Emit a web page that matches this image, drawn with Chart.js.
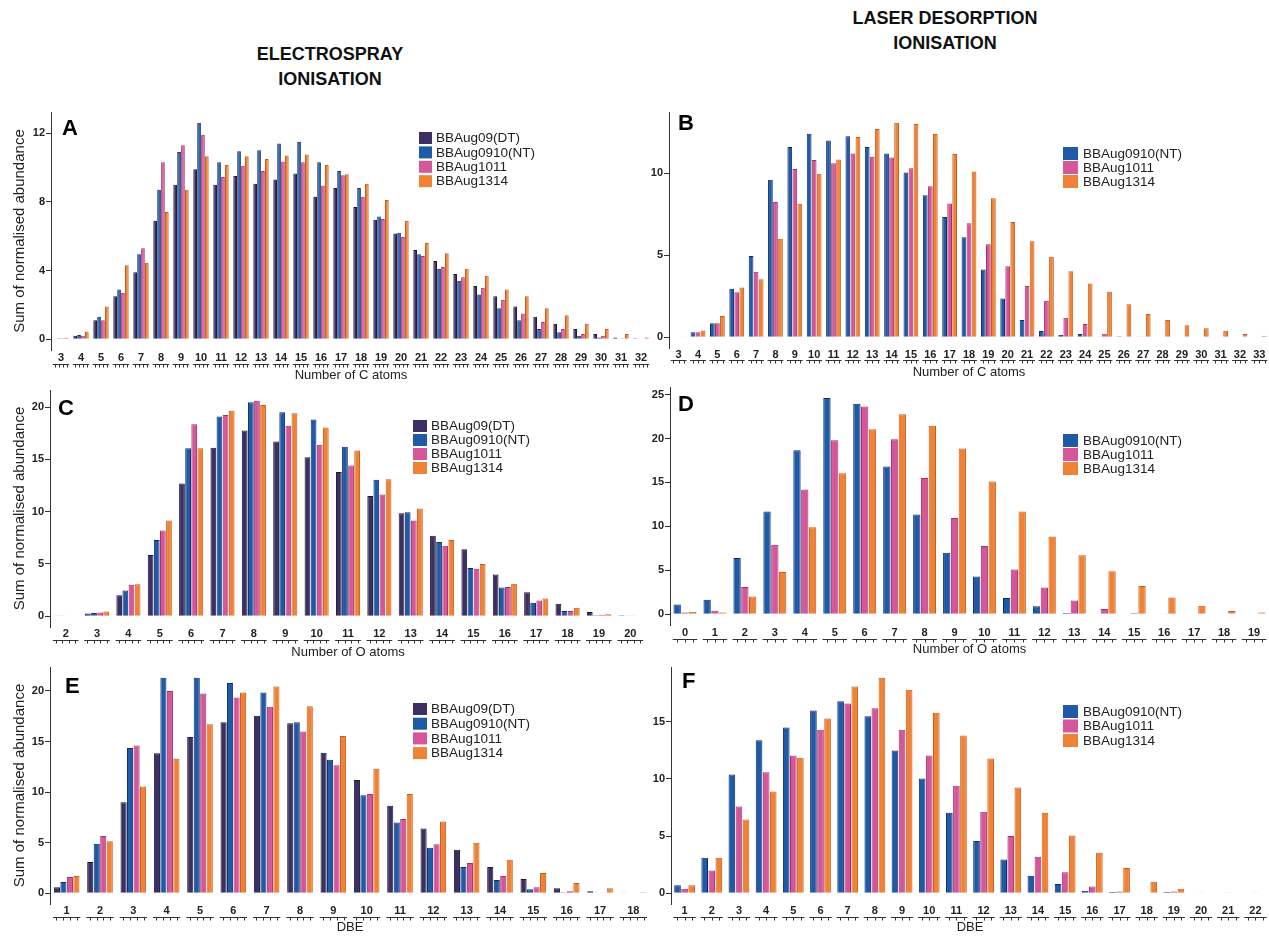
<!DOCTYPE html>
<html><head><meta charset="utf-8">
<script src="https://cdn.jsdelivr.net/npm/chart.js@4.4.1/dist/chart.umd.min.js"></script>
<style>
html,body{margin:0;padding:0;background:#fff;}
body{width:1269px;height:936px;position:relative;overflow:hidden;font-family:"Liberation Sans",Arial,sans-serif;}
.hdr{position:absolute;text-align:center;font-weight:bold;font-size:18px;line-height:25px;color:#111;}
canvas{position:absolute;}
</style></head><body>
<div class="hdr" style="left:180px;top:42px;width:300px;">ELECTROSPRAY<br>IONISATION</div>
<div class="hdr" style="left:795px;top:6px;width:300px;">LASER DESORPTION<br>IONISATION</div>
<canvas id="cA"></canvas><canvas id="cB"></canvas>
<canvas id="cC"></canvas><canvas id="cD"></canvas>
<canvas id="cE"></canvas><canvas id="cF"></canvas>
<script>
// ---------- data ----------
const names4 = ['BBAug09(DT)','BBAug0910(NT)','BBAug1011','BBAug1314'];
const names3 = ['BBAug0910(NT)','BBAug1011','BBAug1314'];

// A: ESI, number of C atoms
const catsA = ['3','4','5','6','7','8','9','10','11','12','13','14','15','16','17','18','19','20','21','22','23','24','25','26','27','28','29','30','31','32'];
const A_DT   = [0.03,0.2,1.1,2.5,3.9,6.9,9.0,9.9,9.0,9.5,9.05,9.3,9.65,8.3,8.8,7.7,6.95,6.15,5.2,4.55,3.8,3.1,2.5,1.9,1.3,0.9,0.6,0.3,0.1,0.05];
const A_NT   = [0.05,0.25,1.3,2.9,4.95,8.7,10.9,12.6,10.3,10.95,11.0,11.4,11.5,10.3,9.8,8.8,7.15,6.2,4.95,4.1,3.4,2.6,1.8,1.1,0.6,0.4,0.2,0.1,0.03,0];
const A_1011 = [0.05,0.2,1.1,2.7,5.3,10.3,11.3,11.9,9.45,10.1,9.8,10.35,10.3,8.95,9.55,8.3,7.0,5.95,4.85,4.2,3.6,3.0,2.3,1.5,1.0,0.6,0.3,0.2,0.05,0];
const A_1314 = [0.08,0.45,1.9,4.3,4.45,7.4,8.7,10.65,10.15,10.65,10.5,10.7,10.75,10.15,9.6,9.05,8.1,6.9,5.6,5.0,4.1,3.7,2.9,2.5,1.8,1.4,0.9,0.6,0.3,0.1];
const ticksA = [0,4,8,12];

// B: LDI, number of C atoms
const catsB = ['3','4','5','6','7','8','9','10','11','12','13','14','15','16','17','18','19','20','21','22','23','24','25','26','27','28','29','30','31','32','33'];
const B_NT   = [0,0.3,0.85,2.95,4.95,9.6,11.6,12.4,12.0,12.25,11.6,11.2,10.05,8.65,7.33,6.1,4.13,2.37,1.05,0.38,0.14,0.2,0.04,0.06,0.02,0,0,0,0,0,0];
const B_1011 = [0,0.3,0.85,2.75,4.0,8.25,10.25,10.8,10.6,11.2,11.0,10.95,10.3,9.2,8.15,6.95,5.67,4.33,3.12,2.23,1.19,0.81,0.22,0.05,0.02,0,0,0,0,0,0];
const B_1314 = [0.05,0.42,1.3,3.04,3.54,6.0,8.14,9.96,10.83,12.2,12.7,13.08,13.0,12.39,11.17,10.1,8.48,7.02,5.85,4.9,4.03,3.28,2.77,2.02,1.42,1.05,0.73,0.55,0.4,0.2,0.1];
const ticksB = [0,5,10];

// C: ESI, number of O atoms
const catsC = ['2','3','4','5','6','7','8','9','10','11','12','13','14','15','16','17','18','19','20'];
const C_DT   = [0.02,0.25,2.0,5.85,12.7,16.1,17.75,16.7,15.2,13.8,11.5,9.85,7.7,6.4,4.0,2.3,1.2,0.4,0.1];
const C_NT   = [0.02,0.3,2.45,7.3,16.05,19.1,20.45,19.5,18.8,16.2,13.05,9.95,7.1,4.6,2.75,1.3,0.5,0.1,0.02];
const C_1011 = [0.05,0.35,3.0,8.2,18.35,19.25,20.6,18.2,16.4,14.4,11.65,9.15,6.75,4.55,2.8,1.5,0.5,0.15,0.02];
const C_1314 = [0.05,0.45,3.05,9.15,16.05,19.65,20.2,19.4,18.05,15.85,13.1,10.3,7.3,5.0,3.1,1.7,0.8,0.2,0.05];
const ticksC = [0,5,10,15,20];

// D: LDI, number of O atoms
const catsD = ['0','1','2','3','4','5','6','7','8','9','10','11','12','13','14','15','16','17','18','19'];
const D_NT   = [1.1,1.65,6.4,11.7,18.65,24.6,23.95,16.8,11.35,7.0,4.3,1.85,0.9,0.15,0.05,0,0,0,0,0];
const D_1011 = [0.2,0.4,3.1,7.9,14.2,19.8,23.65,19.9,15.5,10.95,7.75,5.1,3.05,1.55,0.6,0.15,0.03,0,0,0];
const D_1314 = [0.25,0.2,2.0,4.8,9.9,16.05,21.05,22.75,21.45,18.85,15.1,11.7,8.85,6.7,4.9,3.2,1.9,0.95,0.35,0.2];
const ticksD = [0,5,10,15,20,25];

// E: ESI, DBE
const catsE = ['1','2','3','4','5','6','7','8','9','10','11','12','13','14','15','16','17','18'];
const E_DT   = [0.6,3.1,9.0,13.85,15.45,16.9,17.55,16.8,13.9,11.2,8.65,6.4,4.3,2.6,1.4,0.5,0.2,0.02];
const E_NT   = [1.1,4.9,14.35,21.3,21.3,20.8,19.85,16.9,13.2,9.7,7.0,4.5,2.6,1.3,0.4,0.1,0.02,0];
const E_1011 = [1.6,5.65,14.6,20.0,19.75,19.35,18.45,16.0,12.65,9.8,7.35,4.85,3.0,1.7,0.6,0.2,0.02,0];
const E_1314 = [1.7,5.15,10.55,13.3,16.7,19.85,20.45,18.5,15.55,12.3,9.8,7.1,5.0,3.3,2.0,1.0,0.5,0.1];
const ticksE = [0,5,10,15,20];

// F: LDI, DBE
const catsF = ['1','2','3','4','5','6','7','8','9','10','11','12','13','14','15','16','17','18','19','20','21','22'];
const F_NT   = [0.7,3.1,10.4,13.4,14.5,16.0,16.8,15.5,12.5,10.05,7.05,4.57,2.96,1.54,0.8,0.2,0.1,0.05,0.1,0.05,0.05,0.05];
const F_1011 = [0.4,2.0,7.6,10.6,12.05,14.3,16.6,16.2,14.3,12.05,9.4,7.13,5.0,3.2,1.83,0.6,0.15,0.05,0.15,0.03,0.03,0.03];
const F_1314 = [0.7,3.1,6.45,8.9,11.85,15.3,18.1,18.85,17.8,15.8,13.8,11.8,9.25,7.05,5.05,3.55,2.2,1.0,0.4,0.05,0.05,0.05];
const ticksF = [0,5,10,15];

// ---------- styles ----------
const FAM = '"Liberation Sans", Arial, Helvetica, sans-serif';
const FILL = {'BBAug09(DT)':'#3b3060','BBAug0910(NT)':'#1f5aa6','BBAug1011':'#d5579a','BBAug1314':'#f08236'};
const EDGE = {'BBAug09(DT)':'#1d1638','BBAug0910(NT)':'#0c2c6e','BBAug1011':'#a3306c','BBAug1314':'#c85c18'};

const panels = [
  {id:'cA', letter:'A', lx:62, ly:135, cats:catsA, names:names4, series:[A_DT,A_NT,A_1011,A_1314], ticks:ticksA, yMin:-0.63, yMax:13.23,
   cv:{x:0,y:96,w:655}, area:{l:51,r:651,t:112,b:350}, labelCY:358, combY:363.5, titleCY:375, xTitle:'Number of C atoms', yTitle:true,
   legend:{x:419,y:132,w:13,h:12,dy:14.4,tx:436}},
  {id:'cB', letter:'B', lx:678, ly:130, cats:catsB, names:names3, series:[B_NT,B_1011,B_1314], ticks:ticksB, yMin:-0.654, yMax:13.73,
   cv:{x:628,y:96,w:641}, area:{l:669,r:1269,t:112,b:348}, labelCY:355, combY:360, titleCY:372, xTitle:'Number of C atoms', yTitle:false,
   legend:{x:1063,y:147,w:15,h:13,dy:14,tx:1083}},
  {id:'cC', letter:'C', lx:58, ly:415, cats:catsC, names:names4, series:[C_DT,C_NT,C_1011,C_1314], ticks:ticksC, yMin:-1.03, yMax:21.63,
   cv:{x:0,y:376,w:655}, area:{l:50,r:646,t:390,b:627}, labelCY:633.5, combY:639.5, titleCY:652, xTitle:'Number of O atoms', yTitle:true,
   legend:{x:413,y:420,w:14,h:12,dy:14,tx:431}},
  {id:'cD', letter:'D', lx:678, ly:411, cats:catsD, names:names3, series:[D_NT,D_1011,D_1314], ticks:ticksD, yMin:-1.23, yMax:25.86,
   cv:{x:628,y:373,w:641}, area:{l:670,r:1269,t:387,b:625}, labelCY:633, combY:639, titleCY:649, xTitle:'Number of O atoms', yTitle:false,
   legend:{x:1063,y:434,w:15,h:13,dy:14,tx:1083}},
  {id:'cE', letter:'E', lx:65, ly:693, cats:catsE, names:names4, series:[E_DT,E_NT,E_1011,E_1314], ticks:ticksE, yMin:-1.065, yMax:22.37,
   cv:{x:0,y:652,w:655}, area:{l:50,r:650,t:667,b:904}, labelCY:911, combY:917, titleCY:927, xTitle:'DBE', yTitle:true,
   legend:{x:413,y:703,w:14,h:12,dy:14.7,tx:431}},
  {id:'cF', letter:'F', lx:682, ly:688, cats:catsF, names:names3, series:[F_NT,F_1011,F_1314], ticks:ticksF, yMin:-0.94, yMax:19.8,
   cv:{x:628,y:652,w:641}, area:{l:671,r:1269,t:667,b:904}, labelCY:911, combY:917, titleCY:927, xTitle:'DBE', yTitle:false,
   legend:{x:1063,y:705,w:15,h:13,dy:14.5,tx:1083}}
];

function decorPlugin(p){
  return {
    id:'decor_'+p.id,
    afterDraw(chart){
      const ctx = chart.ctx, xs = chart.scales.x;
      const ox = p.cv.x, oy = p.cv.y;
      const n = chart.data.datasets.length;
      const step = (xs.right - xs.left) / chart.data.labels.length;
      const gw = step * 0.82;
      ctx.save();
      ctx.strokeStyle = '#333'; ctx.lineWidth = 1;
      const y = Math.round(p.combY - oy) + 0.5;
      chart.data.labels.forEach((l, i) => {
        const cx = xs.getPixelForValue(i);
        ctx.beginPath();
        ctx.moveTo(cx - gw/2, y); ctx.lineTo(cx + gw/2, y);
        for (let j = 0; j < n; j++) {
          const tx = Math.round(cx - gw/2 + (j + 0.5) * gw / n) + 0.5;
          ctx.moveTo(tx, y); ctx.lineTo(tx, y + 3);
        }
        ctx.stroke();
      });
      // panel letter
      ctx.fillStyle = '#000';
      ctx.font = 'bold 22px ' + FAM;
      ctx.textBaseline = 'alphabetic'; ctx.textAlign = 'left';
      ctx.fillText(p.letter, p.lx - ox, p.ly - oy);
      // legend
      const L = p.legend;
      ctx.font = '13.5px ' + FAM;
      ctx.textBaseline = 'middle';
      chart.data.datasets.forEach((ds, j) => {
        const sx = L.x - ox, sy = L.y + j * L.dy - oy;
        ctx.fillStyle = ds.backgroundColor;
        ctx.fillRect(sx, sy, L.w, L.h);
        ctx.fillStyle = '#222';
        ctx.fillText(ds.label, L.tx - ox, sy + L.h / 2 + 0.5);
      });
      ctx.restore();
    }
  };
}

panels.forEach(p => {
  const cv = document.getElementById(p.id);
  const h = Math.round(p.titleCY + 8 - p.cv.y);
  cv.width = p.cv.w; cv.height = h;
  cv.style.left = p.cv.x + 'px'; cv.style.top = p.cv.y + 'px';
  cv.style.width = p.cv.w + 'px'; cv.style.height = h + 'px';
  const xh = p.cv.y + h - p.area.b;
  const yw = p.area.l - p.cv.x;
  const tickPad = Math.max(0, p.labelCY - p.area.b - 6.6);
  new Chart(cv, {
    type: 'bar',
    data: {
      labels: p.cats,
      datasets: p.series.map((vals, j) => ({
        label: p.names[j], data: vals,
        backgroundColor: FILL[p.names[j]], borderColor: EDGE[p.names[j]], borderWidth: 1,
        categoryPercentage: 0.78, barPercentage: 0.94
      }))
    },
    options: {
      responsive: false, animation: false, devicePixelRatio: 1,
      layout: { padding: { left: 0, top: p.area.t - p.cv.y, right: p.cv.x + p.cv.w - p.area.r, bottom: 0 } },
      plugins: { legend: { display: false }, tooltip: { enabled: false } },
      scales: {
        x: {
          type: 'category', offset: true,
          grid: { display: false, drawTicks: false }, border: { display: false },
          ticks: { font: { size: 11, weight: 'bold', family: FAM }, color: '#222', padding: tickPad, autoSkip: false, maxRotation: 0 },
          title: { display: true, text: p.xTitle, font: { size: 13, family: FAM }, color: '#222', padding: { top: 0, bottom: 0 } },
          afterFit(s) { s.height = xh; }
        },
        y: {
          min: p.yMin, max: p.yMax,
          grid: { display: true, drawOnChartArea: false, drawTicks: true, tickLength: 5, color: '#333' },
          border: { display: true, color: '#333', width: 1 },
          ticks: { font: { size: 11, weight: 'bold', family: FAM }, color: '#222', padding: 1 },
          afterBuildTicks(s) { s.ticks = p.ticks.map(v => ({ value: v })); },
          title: p.yTitle ? { display: true, text: 'Sum of normalised abundance', font: { size: 15, family: FAM }, color: '#222', padding: { top: 11, bottom: 0 } } : { display: false },
          afterFit(s) { s.width = yw; }
        }
      }
    },
    plugins: [decorPlugin(p)]
  });
});
</script>
</body></html>
